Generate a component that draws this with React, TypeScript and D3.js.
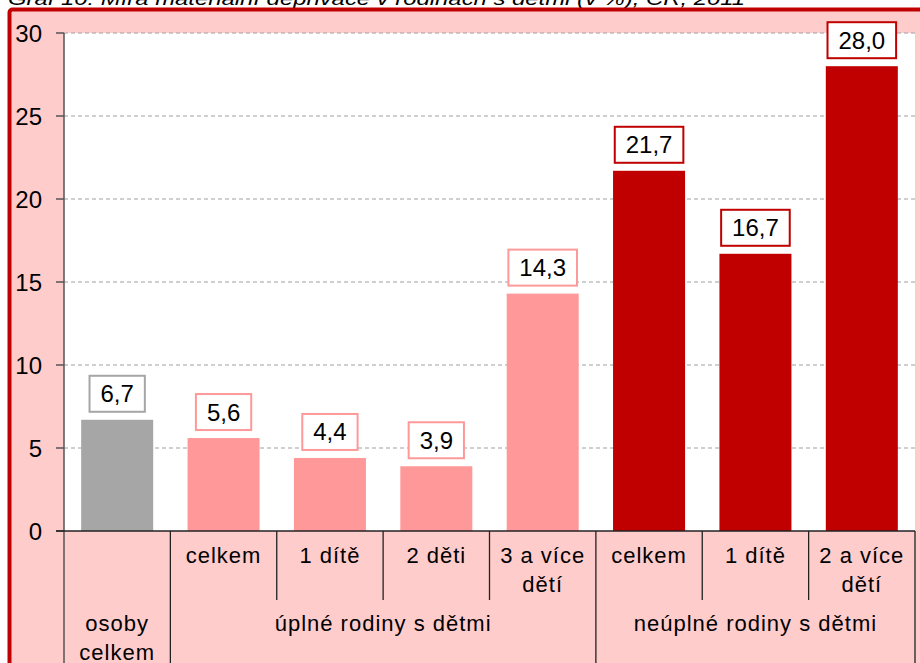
import React from "react";
import * as d3 from "d3";

const titleText = "Graf 10: Míra materiální deprivace v rodinách s dětmi (v %), ČR, 2011";
const subLabels = ["", "celkem", "1 dítě", "2 děti", "3 a více|dětí", "celkem", "1 dítě", "2 a více|dětí"];
const values = [6.7, 5.6, 4.4, 3.9, 14.3, 21.7, 16.7, 28.0];
const barGroup = [0, 1, 1, 1, 1, 2, 2, 2];
const groupLabels = ["osoby|celkem", "úplné rodiny s dětmi", "neúplné rodiny s dětmi"];
const groupSpans = [1, 4, 3];
const groupColors = ["#A6A6A6", "#FF9999", "#C00000"];
const yTicks = [0, 5, 10, 15, 20, 25, 30];

const W = 920;
const H = 663;
const left = 64;
const right = 915;
const top = 33;
const bottom = 531;
const FONT = "'Liberation Sans', Arial, sans-serif";

export default function App() {
  const idx = values.map((_, i) => i);
  const x = d3.scaleBand<number>().domain(idx).range([left, right]).paddingInner(0.323).paddingOuter(0.1615);
  const step = x.step();
  const y = d3.scaleLinear().domain([0, 30]).range([bottom, top]);
  const fmt = (v: number) => d3.format(".1f")(v).replace(".", ",");
  const edge = (i: number) => left + i * step;

  const groupStarts: number[] = [];
  let acc = 0;
  groupSpans.forEach((s) => {
    groupStarts.push(acc);
    acc += s;
  });

  const labelW = (s: string) => s.length * 13.3 - 6.6;

  return (
    <svg width={W} height={H} style={{ position: "absolute", left: 0, top: 0 }} fontFamily={FONT}>
      <rect x={0} y={0} width={W} height={H} fill="#fff" />
      <text x={8} y={5} fontSize={19} fontStyle="italic" textLength={737} lengthAdjust="spacingAndGlyphs" fill="#000">
        {titleText}
      </text>
      <rect x={9.5} y={9.5} width={W + 20} height={H + 20} rx={3} fill="#FFCCCC" stroke="#C00000" strokeWidth={4} />
      <rect x={left} y={top} width={right - left} height={bottom - top} fill="#fff" />
      {yTicks.filter((t) => t > 0).map((t) => (
        <line key={"g" + t} x1={left} x2={right} y1={y(t)} y2={y(t)} stroke="#A0A0A0" strokeWidth={1} strokeDasharray="4,3" />
      ))}
      {values.map((v, i) => (
        <rect key={"b" + i} x={x(i)} y={y(v)} width={x.bandwidth()} height={bottom - y(v)} fill={groupColors[barGroup[i]]} />
      ))}
      {values.map((v, i) => {
        const s = fmt(v);
        const w = labelW(s) + 22;
        const cx = (x(i) as number) + x.bandwidth() / 2;
        const by = y(v) - 8;
        return (
          <g key={"l" + i}>
            <rect x={cx - w / 2} y={by - 36} width={w} height={36} fill="#fff" stroke={groupColors[barGroup[i]]} strokeWidth={2} />
            <text x={cx} y={by - 9.5} textAnchor="middle" fontSize={24} fill="#000">
              {s}
            </text>
          </g>
        );
      })}
      <line x1={left} x2={left} y1={top} y2={H} stroke="#555" strokeWidth={1.5} />
      {yTicks.map((t) => (
        <g key={"t" + t}>
          <line x1={56} x2={left} y1={y(t)} y2={y(t)} stroke="#555" strokeWidth={1.5} />
          <text x={42} y={y(t) + 8.5} textAnchor="end" fontSize={24} fill="#000">
            {t}
          </text>
        </g>
      ))}
      <line x1={56} x2={right} y1={bottom} y2={bottom} stroke="#222" strokeWidth={1.5} />
      {d3.range(1, values.length + 1).map((i) => {
        const isGroupEdge = groupStarts.includes(i) || i === values.length;
        return (
          <line key={"s" + i} x1={edge(i)} x2={edge(i)} y1={bottom} y2={isGroupEdge ? H : 600} stroke="#222" strokeWidth={1.3} />
        );
      })}
      {subLabels.map((s, i) => {
        const lines = s.split("|").filter((d) => d.length);
        const cx = (x(i) as number) + x.bandwidth() / 2;
        return lines.map((ln, k) => (
          <text key={"c" + i + k} x={cx} y={563 + k * 28.5} textAnchor="middle" fontSize={22} letterSpacing={1} fill="#000">
            {ln}
          </text>
        ));
      })}
      {groupLabels.map((g, gi) => {
        const cx = edge(groupStarts[gi]) + (groupSpans[gi] * step) / 2;
        return g.split("|").map((ln, k) => (
          <text key={"gl" + gi + k} x={cx} y={631 + k * 28.5} textAnchor="middle" fontSize={22} letterSpacing={1} fill="#000">
            {ln}
          </text>
        ));
      })}
    </svg>
  );
}
